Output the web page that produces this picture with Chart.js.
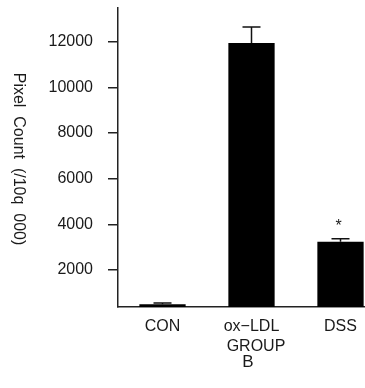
<!DOCTYPE html>
<html>
<head>
<meta charset="utf-8">
<script src="https://cdn.jsdelivr.net/npm/chart.js@4/dist/chart.umd.min.js"></script>
<style>
html,body{margin:0;padding:0;background:#fff;overflow:hidden;width:365px;height:388px;}
#wrap{width:385px;height:388px;}
</style>
</head>
<body>
<div id="wrap"><canvas id="c" width="385" height="388"></canvas></div>
<script>
const categories = ['CON', 'ox\u2212LDL', 'DSS'];
const values = [500, 11950, 3240];
const errors = [60, 700, 130];
const marks = ['', '', '*'];
const yTicks = [2000, 4000, 6000, 8000, 10000, 12000];
const yMin = 380, yMax = 13480;
const yTitle = 'Pixel  Count  (/10q  000)';
const xTitle = 'GROUP';
const panelLabel = 'B';

const FONT = '"Liberation Sans", Arial, sans-serif';
const TXT = '#1a1a1a';

const extras = {
  id: 'extras',
  afterDatasetsDraw(chart) {
    const ctx = chart.ctx;
    const meta = chart.getDatasetMeta(0);
    const ys = chart.scales.y;
    ctx.save();
    ctx.strokeStyle = '#111';
    ctx.lineWidth = 1.5;
    meta.data.forEach((bar, i) => {
      const top = ys.getPixelForValue(values[i]);
      const eTop = ys.getPixelForValue(values[i] + errors[i]);
      ctx.beginPath();
      ctx.moveTo(bar.x, top);
      ctx.lineTo(bar.x, eTop);
      ctx.moveTo(bar.x - 9, eTop);
      ctx.lineTo(bar.x + 9, eTop);
      ctx.stroke();
      if (marks[i]) {
        ctx.fillStyle = TXT;
        ctx.font = '16px ' + FONT;
        ctx.textAlign = 'center';
        ctx.textBaseline = 'middle';
        ctx.fillText(marks[i], bar.x - 2, eTop - 12);
      }
    });
    ctx.fillStyle = TXT;
    ctx.font = '16px ' + FONT;
    ctx.textAlign = 'center';
    ctx.textBaseline = 'middle';
    ctx.fillText(xTitle, 256, 347);
    ctx.font = '17px ' + FONT;
    ctx.fillText(panelLabel, 248, 362);
    ctx.save();
    ctx.translate(18, 159);
    ctx.rotate(Math.PI / 2);
    ctx.font = '16px ' + FONT;
    ctx.fillText(yTitle, 0, 0);
    ctx.restore();
    ctx.restore();
  }
};

new Chart(document.getElementById('c'), {
  type: 'bar',
  data: {
    labels: categories,
    datasets: [{
      data: values,
      backgroundColor: '#000',
      borderWidth: 0,
      barPercentage: 0.52,
      categoryPercentage: 1
    }]
  },
  options: {
    responsive: false,
    animation: false,
    devicePixelRatio: 1,
    layout: { padding: { top: 8, left: 0, right: 0, bottom: 0 } },
    plugins: { legend: { display: false }, tooltip: { enabled: false } },
    scales: {
      x: {
        grid: { display: false, drawTicks: false },
        border: { display: true, color: '#222', width: 1.5 },
        ticks: { color: TXT, font: { family: FONT, size: 16 }, padding: 10 },
        afterFit(s) { s.height = 81; s.paddingLeft = 0; s.paddingRight = 0; }
      },
      y: {
        min: yMin,
        max: yMax,
        afterBuildTicks(s) { s.ticks = yTicks.map(v => ({ value: v })); },
        grid: { drawOnChartArea: false, drawTicks: true, tickLength: 10, color: '#222', lineWidth: 1.5 },
        border: { display: true, color: '#222', width: 1.5 },
        ticks: { color: TXT, font: { family: FONT, size: 16 }, padding: 15, callback: v => String(v) },
        afterFit(s) { s.width = 118; s.paddingTop = 0; s.paddingBottom = 0; }
      }
    }
  },
  plugins: [extras]
});
</script>
</body>
</html>
